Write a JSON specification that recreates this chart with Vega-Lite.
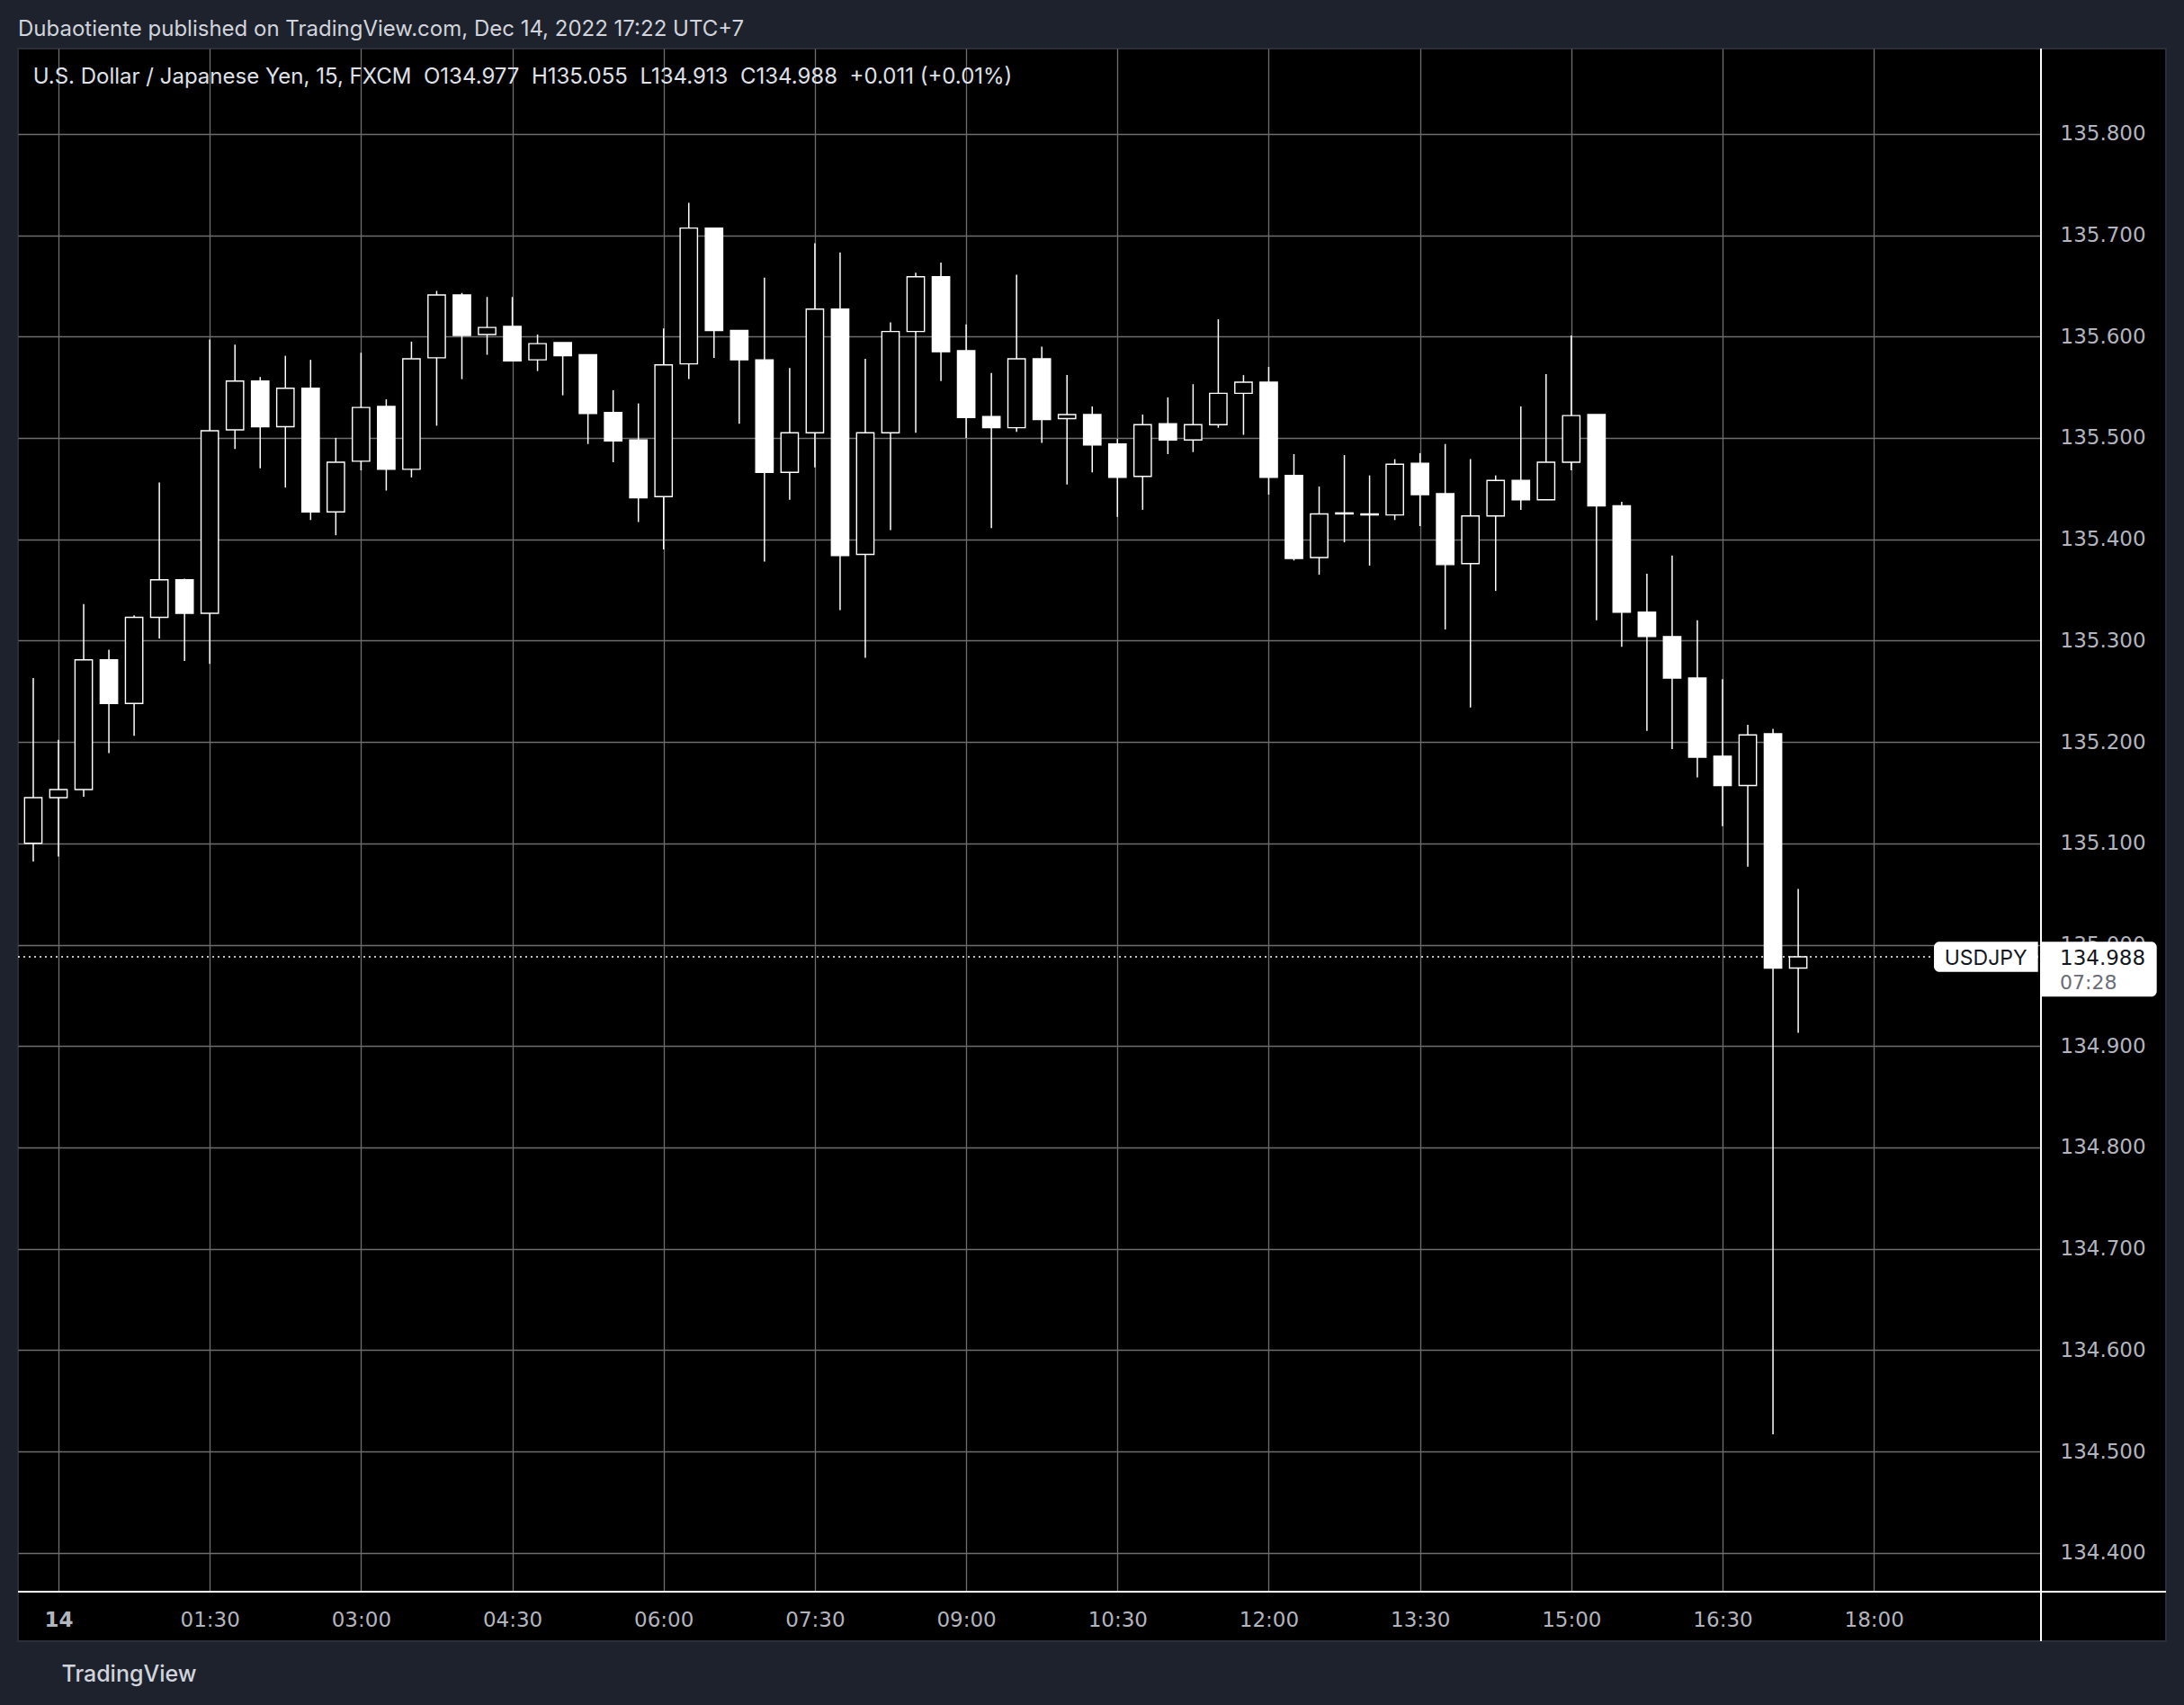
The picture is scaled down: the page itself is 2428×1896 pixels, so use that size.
{
  "$schema": "https://vega.github.io/schema/vega-lite/v6.json",
  "width": 2388,
  "height": 1771,
  "autosize": {"type": "none"},
  "padding": {"left": 20, "top": 54, "right": 20, "bottom": 71},
  "background": "#1e222d",
  "view": {"fill": "#000000", "stroke": "#2a2e39", "strokeWidth": 2},
  "config": {"font": "Inter"},
  "title": {
    "text": "Dubaotiente published on TradingView.com, Dec 14, 2022 17:22 UTC+7",
    "anchor": "start",
    "frame": "group",
    "baseline": "top",
    "font": "Inter",
    "fontSize": 24,
    "fontWeight": 400,
    "color": "#d1d4dc",
    "offset": 8
  },
  "resolve": {"axis": {"x": "independent", "y": "independent"}},
  "data": {
    "format": {"parse": {"time": "utc:'%Y-%m-%d %H:%M'"}},
    "values": [
      {"time": "2022-12-13 23:45", "open": 135.100, "high": 135.263, "low": 135.082, "close": 135.145},
      {"time": "2022-12-14 00:00", "open": 135.145, "high": 135.202, "low": 135.087, "close": 135.153},
      {"time": "2022-12-14 00:15", "open": 135.153, "high": 135.336, "low": 135.146, "close": 135.281},
      {"time": "2022-12-14 00:30", "open": 135.281, "high": 135.291, "low": 135.189, "close": 135.238},
      {"time": "2022-12-14 00:45", "open": 135.238, "high": 135.325, "low": 135.206, "close": 135.323},
      {"time": "2022-12-14 01:00", "open": 135.323, "high": 135.456, "low": 135.302, "close": 135.360},
      {"time": "2022-12-14 01:15", "open": 135.360, "high": 135.361, "low": 135.280, "close": 135.327},
      {"time": "2022-12-14 01:30", "open": 135.327, "high": 135.597, "low": 135.277, "close": 135.507},
      {"time": "2022-12-14 01:45", "open": 135.508, "high": 135.592, "low": 135.489, "close": 135.556},
      {"time": "2022-12-14 02:00", "open": 135.556, "high": 135.560, "low": 135.470, "close": 135.511},
      {"time": "2022-12-14 02:15", "open": 135.511, "high": 135.581, "low": 135.451, "close": 135.549},
      {"time": "2022-12-14 02:30", "open": 135.549, "high": 135.577, "low": 135.419, "close": 135.427},
      {"time": "2022-12-14 02:45", "open": 135.427, "high": 135.500, "low": 135.404, "close": 135.476},
      {"time": "2022-12-14 03:00", "open": 135.477, "high": 135.584, "low": 135.468, "close": 135.530},
      {"time": "2022-12-14 03:15", "open": 135.531, "high": 135.538, "low": 135.448, "close": 135.469},
      {"time": "2022-12-14 03:30", "open": 135.469, "high": 135.595, "low": 135.461, "close": 135.578},
      {"time": "2022-12-14 03:45", "open": 135.579, "high": 135.645, "low": 135.512, "close": 135.641},
      {"time": "2022-12-14 04:00", "open": 135.641, "high": 135.643, "low": 135.558, "close": 135.601},
      {"time": "2022-12-14 04:15", "open": 135.602, "high": 135.639, "low": 135.582, "close": 135.609},
      {"time": "2022-12-14 04:30", "open": 135.610, "high": 135.639, "low": 135.576, "close": 135.576},
      {"time": "2022-12-14 04:45", "open": 135.577, "high": 135.602, "low": 135.566, "close": 135.593},
      {"time": "2022-12-14 05:00", "open": 135.594, "high": 135.594, "low": 135.542, "close": 135.581},
      {"time": "2022-12-14 05:15", "open": 135.582, "high": 135.582, "low": 135.494, "close": 135.524},
      {"time": "2022-12-14 05:30", "open": 135.525, "high": 135.547, "low": 135.476, "close": 135.497},
      {"time": "2022-12-14 05:45", "open": 135.498, "high": 135.534, "low": 135.417, "close": 135.441},
      {"time": "2022-12-14 06:00", "open": 135.442, "high": 135.608, "low": 135.390, "close": 135.572},
      {"time": "2022-12-14 06:15", "open": 135.573, "high": 135.732, "low": 135.558, "close": 135.707},
      {"time": "2022-12-14 06:30", "open": 135.707, "high": 135.707, "low": 135.579, "close": 135.606},
      {"time": "2022-12-14 06:45", "open": 135.606, "high": 135.606, "low": 135.514, "close": 135.577},
      {"time": "2022-12-14 07:00", "open": 135.577, "high": 135.658, "low": 135.378, "close": 135.466},
      {"time": "2022-12-14 07:15", "open": 135.466, "high": 135.569, "low": 135.439, "close": 135.505},
      {"time": "2022-12-14 07:30", "open": 135.505, "high": 135.692, "low": 135.471, "close": 135.627},
      {"time": "2022-12-14 07:45", "open": 135.627, "high": 135.683, "low": 135.330, "close": 135.384},
      {"time": "2022-12-14 08:00", "open": 135.385, "high": 135.578, "low": 135.283, "close": 135.505},
      {"time": "2022-12-14 08:15", "open": 135.505, "high": 135.614, "low": 135.409, "close": 135.605},
      {"time": "2022-12-14 08:30", "open": 135.605, "high": 135.663, "low": 135.505, "close": 135.659},
      {"time": "2022-12-14 08:45", "open": 135.659, "high": 135.673, "low": 135.556, "close": 135.585},
      {"time": "2022-12-14 09:00", "open": 135.586, "high": 135.612, "low": 135.500, "close": 135.520},
      {"time": "2022-12-14 09:15", "open": 135.521, "high": 135.564, "low": 135.411, "close": 135.510},
      {"time": "2022-12-14 09:30", "open": 135.510, "high": 135.661, "low": 135.506, "close": 135.578},
      {"time": "2022-12-14 09:45", "open": 135.578, "high": 135.590, "low": 135.495, "close": 135.518},
      {"time": "2022-12-14 10:00", "open": 135.519, "high": 135.562, "low": 135.454, "close": 135.523},
      {"time": "2022-12-14 10:15", "open": 135.523, "high": 135.531, "low": 135.466, "close": 135.493},
      {"time": "2022-12-14 10:30", "open": 135.494, "high": 135.499, "low": 135.422, "close": 135.461},
      {"time": "2022-12-14 10:45", "open": 135.462, "high": 135.523, "low": 135.429, "close": 135.513},
      {"time": "2022-12-14 11:00", "open": 135.514, "high": 135.540, "low": 135.484, "close": 135.498},
      {"time": "2022-12-14 11:15", "open": 135.498, "high": 135.553, "low": 135.486, "close": 135.513},
      {"time": "2022-12-14 11:30", "open": 135.513, "high": 135.617, "low": 135.510, "close": 135.544},
      {"time": "2022-12-14 11:45", "open": 135.544, "high": 135.562, "low": 135.503, "close": 135.555},
      {"time": "2022-12-14 12:00", "open": 135.555, "high": 135.570, "low": 135.444, "close": 135.461},
      {"time": "2022-12-14 12:15", "open": 135.463, "high": 135.484, "low": 135.379, "close": 135.381},
      {"time": "2022-12-14 12:30", "open": 135.382, "high": 135.452, "low": 135.365, "close": 135.425},
      {"time": "2022-12-14 12:45", "open": 135.426, "high": 135.483, "low": 135.397, "close": 135.425},
      {"time": "2022-12-14 13:00", "open": 135.425, "high": 135.463, "low": 135.374, "close": 135.424},
      {"time": "2022-12-14 13:15", "open": 135.424, "high": 135.479, "low": 135.419, "close": 135.474},
      {"time": "2022-12-14 13:30", "open": 135.475, "high": 135.485, "low": 135.413, "close": 135.444},
      {"time": "2022-12-14 13:45", "open": 135.445, "high": 135.494, "low": 135.311, "close": 135.375},
      {"time": "2022-12-14 14:00", "open": 135.376, "high": 135.479, "low": 135.234, "close": 135.423},
      {"time": "2022-12-14 14:15", "open": 135.423, "high": 135.463, "low": 135.349, "close": 135.458},
      {"time": "2022-12-14 14:30", "open": 135.458, "high": 135.531, "low": 135.429, "close": 135.439},
      {"time": "2022-12-14 14:45", "open": 135.439, "high": 135.563, "low": 135.439, "close": 135.476},
      {"time": "2022-12-14 15:00", "open": 135.476, "high": 135.601, "low": 135.468, "close": 135.522},
      {"time": "2022-12-14 15:15", "open": 135.523, "high": 135.523, "low": 135.320, "close": 135.433},
      {"time": "2022-12-14 15:30", "open": 135.433, "high": 135.437, "low": 135.294, "close": 135.328},
      {"time": "2022-12-14 15:45", "open": 135.328, "high": 135.366, "low": 135.211, "close": 135.304},
      {"time": "2022-12-14 16:00", "open": 135.304, "high": 135.384, "low": 135.193, "close": 135.263},
      {"time": "2022-12-14 16:15", "open": 135.263, "high": 135.320, "low": 135.165, "close": 135.185},
      {"time": "2022-12-14 16:30", "open": 135.186, "high": 135.262, "low": 135.117, "close": 135.157},
      {"time": "2022-12-14 16:45", "open": 135.157, "high": 135.217, "low": 135.077, "close": 135.207},
      {"time": "2022-12-14 17:00", "open": 135.208, "high": 135.213, "low": 134.517, "close": 134.977},
      {"time": "2022-12-14 17:15", "open": 134.977, "high": 135.055, "low": 134.913, "close": 134.988}
    ]
  },
  "layer": [
    {
      "mark": {"type": "rule", "color": "#ffffff", "strokeWidth": 1.5},
      "encoding": {
        "x": {
          "field": "time",
          "type": "temporal",
          "scale": {
            "type": "utc",
            "domain": [
              {"year": 2022, "month": 12, "date": 13, "hours": 23, "minutes": 35, "seconds": 55, "utc": true},
              {"year": 2022, "month": 12, "date": 14, "hours": 19, "minutes": 39, "seconds": 26, "utc": true}
            ],
            "range": [0, 2249],
            "padding": 0,
            "nice": false
          },
          "axis": {
            "orient": "top",
            "offset": 0,
            "zindex": 0,
            "values": [
              {"year": 2022, "month": 12, "date": 14, "hours": 0, "minutes": 0, "utc": true},
              {"year": 2022, "month": 12, "date": 14, "hours": 1, "minutes": 30, "utc": true},
              {"year": 2022, "month": 12, "date": 14, "hours": 3, "minutes": 0, "utc": true},
              {"year": 2022, "month": 12, "date": 14, "hours": 4, "minutes": 30, "utc": true},
              {"year": 2022, "month": 12, "date": 14, "hours": 6, "minutes": 0, "utc": true},
              {"year": 2022, "month": 12, "date": 14, "hours": 7, "minutes": 30, "utc": true},
              {"year": 2022, "month": 12, "date": 14, "hours": 9, "minutes": 0, "utc": true},
              {"year": 2022, "month": 12, "date": 14, "hours": 10, "minutes": 30, "utc": true},
              {"year": 2022, "month": 12, "date": 14, "hours": 12, "minutes": 0, "utc": true},
              {"year": 2022, "month": 12, "date": 14, "hours": 13, "minutes": 30, "utc": true},
              {"year": 2022, "month": 12, "date": 14, "hours": 15, "minutes": 0, "utc": true},
              {"year": 2022, "month": 12, "date": 14, "hours": 16, "minutes": 30, "utc": true},
              {"year": 2022, "month": 12, "date": 14, "hours": 18, "minutes": 0, "utc": true}
            ],
            "labels": false,
            "ticks": false,
            "domain": false,
            "grid": true,
            "gridColor": "#6e6e6e",
            "gridWidth": 1.3,
            "title": null
          }
        },
        "y": {
          "field": "low",
          "type": "quantitative",
          "scale": {"domain": [134.36166, 135.88411], "range": [1716, 0], "padding": 0, "nice": false, "zero": false},
          "axis": {
            "orient": "left",
            "offset": 0,
            "zindex": 0,
            "values": [134.4, 134.5, 134.6, 134.7, 134.8, 134.9, 135.0, 135.1, 135.2, 135.3, 135.4, 135.5, 135.6, 135.7, 135.8],
            "labels": false,
            "ticks": false,
            "domain": false,
            "grid": true,
            "gridColor": "#6e6e6e",
            "gridWidth": 1.3,
            "title": null
          }
        },
        "y2": {"field": "high"}
      }
    },
    {
      "transform": [{"filter": "utchours(datum.time) == 17 && utcminutes(datum.time) == 15"}],
      "mark": {"type": "rule", "color": "#ffffff", "strokeWidth": 1.5, "strokeDash": [2, 4]},
      "encoding": {
        "x": {"datum": {"year": 2022, "month": 12, "date": 13, "hours": 23, "minutes": 35, "seconds": 55, "utc": true}, "type": "temporal", "axis": null},
        "x2": {"datum": {"year": 2022, "month": 12, "date": 14, "hours": 19, "minutes": 39, "seconds": 26, "utc": true}},
        "y": {"field": "close", "type": "quantitative", "axis": null}
      }
    },
    {
      "mark": {"type": "bar", "size": 19.3, "stroke": "#ffffff", "strokeWidth": 1.4},
      "encoding": {
        "x": {
          "field": "time",
          "type": "temporal",
          "axis": {
            "orient": "bottom",
            "offset": -55,
            "zindex": 0,
            "values": [
              {"year": 2022, "month": 12, "date": 14, "hours": 0, "minutes": 0, "utc": true},
              {"year": 2022, "month": 12, "date": 14, "hours": 1, "minutes": 30, "utc": true},
              {"year": 2022, "month": 12, "date": 14, "hours": 3, "minutes": 0, "utc": true},
              {"year": 2022, "month": 12, "date": 14, "hours": 4, "minutes": 30, "utc": true},
              {"year": 2022, "month": 12, "date": 14, "hours": 6, "minutes": 0, "utc": true},
              {"year": 2022, "month": 12, "date": 14, "hours": 7, "minutes": 30, "utc": true},
              {"year": 2022, "month": 12, "date": 14, "hours": 9, "minutes": 0, "utc": true},
              {"year": 2022, "month": 12, "date": 14, "hours": 10, "minutes": 30, "utc": true},
              {"year": 2022, "month": 12, "date": 14, "hours": 12, "minutes": 0, "utc": true},
              {"year": 2022, "month": 12, "date": 14, "hours": 13, "minutes": 30, "utc": true},
              {"year": 2022, "month": 12, "date": 14, "hours": 15, "minutes": 0, "utc": true},
              {"year": 2022, "month": 12, "date": 14, "hours": 16, "minutes": 30, "utc": true},
              {"year": 2022, "month": 12, "date": 14, "hours": 18, "minutes": 0, "utc": true}
            ],
            "labelExpr": "utchours(datum.value) == 0 && utcminutes(datum.value) == 0 ? '14' : utcFormat(datum.value, '%H:%M')",
            "labelFont": "DejaVu Sans",
            "labelFontSize": 23,
            "labelColor": "#b2b5be",
            "labelFontWeight": {"condition": {"test": "utchours(datum.value) == 0 && utcminutes(datum.value) == 0", "value": 700}, "value": 400},
            "labelPadding": 20,
            "labelFlush": false,
            "labelOverlap": false,
            "ticks": false,
            "tickSize": 0,
            "domain": false,
            "grid": false,
            "title": "TradingView",
            "titleFont": "Inter",
            "titleFontSize": 25,
            "titleFontWeight": 500,
            "titleColor": "#d1d4dc",
            "titleAnchor": "start",
            "titleAlign": "left",
            "titleBaseline": "top",
            "titleX": 48,
            "titlePadding": 36
          }
        },
        "y": {
          "field": "open",
          "type": "quantitative",
          "axis": {
            "orient": "right",
            "offset": -139,
            "zindex": 0,
            "values": [134.4, 134.5, 134.6, 134.7, 134.8, 134.9, 135.0, 135.1, 135.2, 135.3, 135.4, 135.5, 135.6, 135.7, 135.8],
            "format": ".3f",
            "labelFont": "DejaVu Sans",
            "labelFontSize": 23,
            "labelColor": "#b2b5be",
            "labelPadding": 21,
            "labelFlush": false,
            "labelOverlap": false,
            "ticks": false,
            "tickSize": 0,
            "domain": false,
            "grid": false,
            "title": null
          }
        },
        "y2": {"field": "close"},
        "fill": {"condition": {"test": "datum.close < datum.open", "value": "#ffffff"}, "value": "#000000"}
      }
    },
    {
      "transform": [{"filter": "utchours(datum.time) == 17 && utcminutes(datum.time) == 15"}],
      "mark": {"type": "rule", "color": "#ffffff", "strokeWidth": 2},
      "encoding": {
        "x": {"datum": {"year": 2022, "month": 12, "date": 14, "hours": 19, "minutes": 39, "seconds": 26, "utc": true}, "type": "temporal", "axis": null},
        "y": {"datum": 135.88411, "type": "quantitative", "axis": null},
        "y2": {"datum": 134.31287}
      }
    },
    {
      "transform": [{"filter": "utchours(datum.time) == 17 && utcminutes(datum.time) == 15"}],
      "mark": {"type": "rule", "color": "#ffffff", "strokeWidth": 2},
      "encoding": {
        "x": {"datum": {"year": 2022, "month": 12, "date": 13, "hours": 23, "minutes": 35, "seconds": 55, "utc": true}, "type": "temporal", "axis": null},
        "x2": {"datum": {"year": 2022, "month": 12, "date": 14, "hours": 20, "minutes": 53, "seconds": 49, "utc": true}},
        "y": {"datum": 134.36166, "type": "quantitative", "axis": null}
      }
    },
    {
      "transform": [{"filter": "utchours(datum.time) == 17 && utcminutes(datum.time) == 15"}],
      "mark": {"type": "rect", "fill": "#ffffff", "cornerRadiusTopLeft": 6, "cornerRadiusBottomLeft": 6},
      "encoding": {
        "x": {"datum": {"year": 2022, "month": 12, "date": 14, "hours": 18, "minutes": 35, "seconds": 46, "utc": true}, "type": "temporal", "axis": null},
        "x2": {"datum": {"year": 2022, "month": 12, "date": 14, "hours": 19, "minutes": 37, "seconds": 40, "utc": true}},
        "y": {"datum": 135.00285, "type": "quantitative", "axis": null},
        "y2": {"datum": 134.97322}
      }
    },
    {
      "transform": [{"filter": "utchours(datum.time) == 17 && utcminutes(datum.time) == 15"}],
      "mark": {"type": "rect", "fill": "#ffffff", "cornerRadiusTopRight": 6, "cornerRadiusBottomRight": 6},
      "encoding": {
        "x": {"datum": {"year": 2022, "month": 12, "date": 14, "hours": 19, "minutes": 39, "seconds": 58, "utc": true}, "type": "temporal", "axis": null},
        "x2": {"datum": {"year": 2022, "month": 12, "date": 14, "hours": 20, "minutes": 48, "seconds": 18, "utc": true}},
        "y": {"datum": 135.00285, "type": "quantitative", "axis": null},
        "y2": {"datum": 134.94873}
      }
    },
    {
      "transform": [{"filter": "utchours(datum.time) == 17 && utcminutes(datum.time) == 15"}],
      "mark": {"type": "text", "text": "USDJPY", "font": "Inter", "fontSize": 23, "color": "#131722", "align": "left", "baseline": "alphabetic", "dy": 8.5},
      "encoding": {
        "x": {"datum": {"year": 2022, "month": 12, "date": 14, "hours": 18, "minutes": 42, "seconds": 1, "utc": true}, "type": "temporal", "axis": null},
        "y": {"field": "close", "type": "quantitative", "axis": null}
      }
    },
    {
      "transform": [{"filter": "utchours(datum.time) == 17 && utcminutes(datum.time) == 15"}],
      "mark": {"type": "text", "font": "DejaVu Sans", "fontSize": 23, "color": "#131722", "align": "left", "baseline": "alphabetic", "dy": 8.5},
      "encoding": {
        "x": {"datum": {"year": 2022, "month": 12, "date": 14, "hours": 19, "minutes": 50, "seconds": 40, "utc": true}, "type": "temporal", "axis": null},
        "y": {"field": "close", "type": "quantitative", "axis": null},
        "text": {"field": "close", "type": "quantitative", "format": ".3f"}
      }
    },
    {
      "transform": [{"filter": "utchours(datum.time) == 17 && utcminutes(datum.time) == 15"}],
      "mark": {"type": "text", "text": "07:28", "font": "DejaVu Sans", "fontSize": 22, "color": "#6a6d78", "align": "left", "baseline": "alphabetic", "dy": 36},
      "encoding": {
        "x": {"datum": {"year": 2022, "month": 12, "date": 14, "hours": 19, "minutes": 50, "seconds": 40, "utc": true}, "type": "temporal", "axis": null},
        "y": {"field": "close", "type": "quantitative", "axis": null}
      }
    },
    {
      "transform": [{"filter": "utchours(datum.time) == 17 && utcminutes(datum.time) == 15"}],
      "mark": {"type": "text", "text": "U.S. Dollar / Japanese Yen, 15, FXCM\u00a0\u00a0O134.977\u00a0\u00a0H135.055\u00a0\u00a0L134.913\u00a0\u00a0C134.988\u00a0\u00a0+0.011 (+0.01%)", "font": "Inter", "fontSize": 24, "color": "#dfe1e8", "align": "left", "baseline": "alphabetic"},
      "encoding": {
        "x": {"datum": {"year": 2022, "month": 12, "date": 13, "hours": 23, "minutes": 44, "seconds": 52, "utc": true}, "type": "temporal", "axis": null},
        "y": {"datum": 135.84924, "type": "quantitative", "axis": null}
      }
    }
  ]
}
